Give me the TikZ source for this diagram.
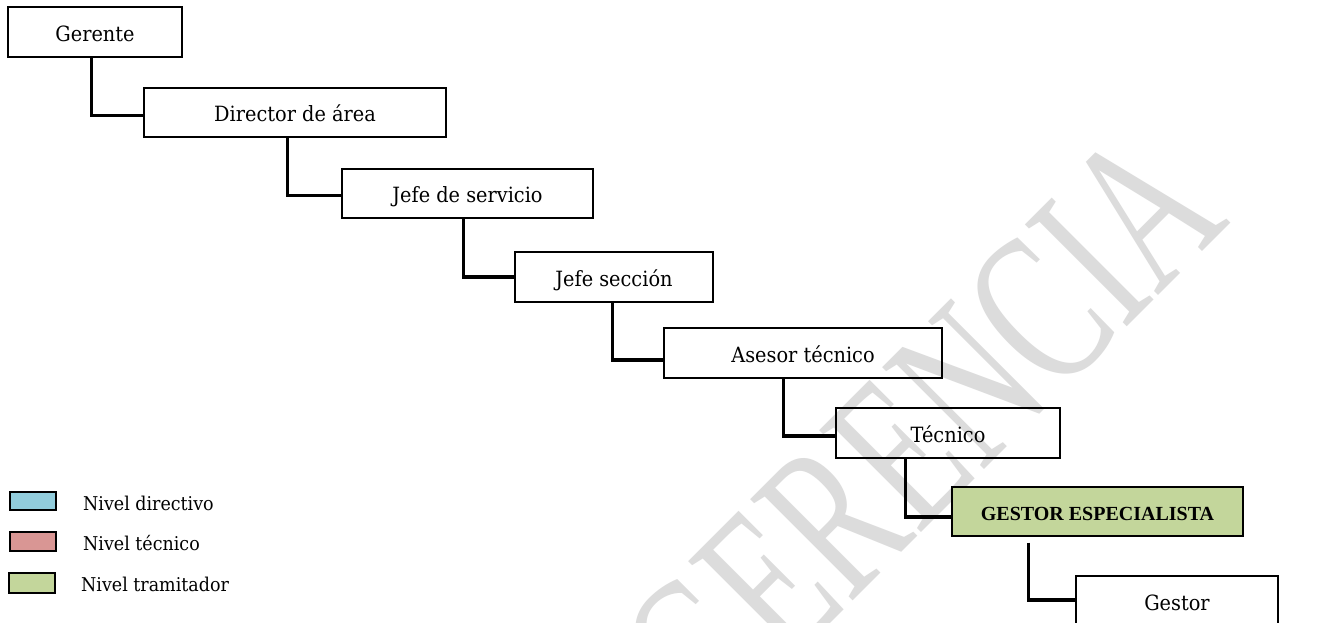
\documentclass[tikz,border=0pt]{standalone}
\usepackage{fontspec}
\setmainfont{DejaVu Serif}[FakeStretch=0.92]
\newfontfamily\boldfont{Liberation Serif}
\newfontfamily\wmfont{Liberation Serif}
\definecolor{lblue}{HTML}{92CDDC}
\definecolor{lred}{HTML}{D99694}
\definecolor{lgreen}{HTML}{C3D69B}
\definecolor{wmgray}{RGB}{220,220,220}
\tikzset{
  box/.style={draw=black, line width=1.4pt, inner sep=0pt, minimum height=50pt,
    text height=18pt, text depth=0pt, font=\fontsize{21}{24}\selectfont},
  greenbox/.style={box, fill=lgreen, font=\boldfont\bfseries\fontsize{20}{22}\selectfont},
  conn/.style={line width=3.3pt, line join=miter},
  legbox/.style={draw=black, line width=1.6pt, inner sep=0pt, minimum width=46pt, minimum height=18pt},
  legtext/.style={anchor=base west, inner sep=0pt, font=\fontsize{19}{21}\selectfont}
}
\begin{document}
\begin{tikzpicture}[x=1pt,y=-1pt]
\useasboundingbox (0,0) rectangle (1340,622);
\fill[white] (0,0) rectangle (1340,622);

% watermark
\node[anchor=base west, rotate=45, xscale=0.66, transform shape, text=wmgray, inner sep=0pt]
  (wm) at (713,741) {\wmfont\fontsize{220}{220}\selectfont GERENCIA};

% boxes
\node[box, minimum width=174pt] (ger) at (95,32) {Gerente};
\node[box, minimum width=302pt, minimum height=49pt] (dir) at (295,112.5) {Director de área};
\node[box, minimum width=251pt, minimum height=49pt] (jse) at (467.5,193.5) {Jefe de servicio};
\node[box, minimum width=198pt] (jsc) at (614,277) {Jefe sección};
\node[box, minimum width=278pt] (ase) at (803,353) {Asesor técnico};
\node[box, minimum width=224pt] (tec) at (948,433) {Técnico};
\node[greenbox, minimum width=291pt, minimum height=49pt] (ges) at (1097.5,511.5) {GESTOR ESPECIALISTA};
\node[box, minimum width=202pt] (gst) at (1177,601) {Gestor};

% connectors
\draw[conn] (ger.south west) ++(84,0) |- ([yshift=-3pt]dir.west);
\draw[conn] (dir.south west) ++(144,0) |- ([yshift=-2pt]jse.west);
\draw[conn] (jse.south west) ++(122,0) |- (jsc.west);
\draw[conn] (jsc.south west) ++(98,0) |- ([yshift=-7pt]ase.west);
\draw[conn] (ase.south west) ++(120,0) |- ([yshift=-3pt]tec.west);
\draw[conn] (tec.south west) ++(70,0) |- ([yshift=-5.5pt]ges.west);
\draw[conn] ([yshift=-6pt]ges.south west) ++(77,0) |- ([yshift=1pt]gst.west);

% legend
\node[legbox, fill=lblue] (lb1) at (33,501) {};
\node[legbox, fill=lred, minimum height=19pt] (lb2) at (33,541.5) {};
\node[legbox, fill=lgreen, minimum height=20pt] (lb3) at (32,583) {};
\node[legtext] (lt1) at (83,510) {Nivel directivo};
\node[legtext] (lt2) at (83,550) {Nivel técnico};
\node[legtext] (lt3) at (81,591) {Nivel tramitador};
\end{tikzpicture}
\end{document}
